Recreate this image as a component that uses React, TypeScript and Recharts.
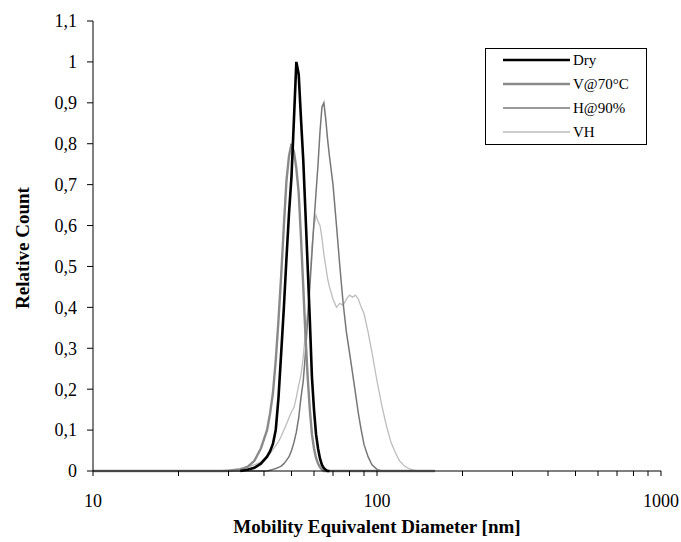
import { LineChart, Line, XAxis, YAxis, Label } from "recharts";

// diameters [nm] shared by every series
const diam = [10, 15, 20, 25, 28, 30, 33, 35, 37, 39, 41, 42, 43, 44, 45, 46, 47, 48, 49, 50, 51, 52, 53, 54, 55, 56, 57, 58, 59, 60, 61, 62, 63, 64, 65, 66, 67, 68, 70, 72, 74, 76, 78, 80, 82, 84, 86, 88, 90, 93, 96, 100, 104, 108, 112, 116, 120, 125, 130, 135, 140, 150, 160];

const dry = [null, null, null, null, null, null, 0, 0.003, 0.008, 0.018, 0.035, 0.048, 0.066, 0.1, 0.18, 0.29, 0.4, 0.52, 0.63, 0.72, 0.86, 1.0, 0.97, 0.86, 0.76, 0.63, 0.5, 0.37, 0.23, 0.15, 0.09, 0.055, 0.03, 0.015, 0.007, 0.003, 0, 0, null, null, null, null, null, null, null, null, null, null, null, null, null, null, null, null, null, null, null, null, null, null, null, null, null];
const v70 = [0, 0, 0, 0, 0, 0, 0.004, 0.01, 0.025, 0.055, 0.1, 0.14, 0.19, 0.27, 0.37, 0.48, 0.6, 0.71, 0.77, 0.8, 0.78, 0.74, 0.68, 0.57, 0.45, 0.33, 0.23, 0.15, 0.09, 0.055, 0.032, 0.018, 0.009, 0.004, 0, 0, 0, 0, 0, 0, 0, 0, 0, 0, 0, 0, 0, 0, 0, 0, 0, 0, 0, 0, 0, 0, 0, 0, 0, 0, 0, 0, 0];
const h90 = [0, 0, 0, 0, 0, 0, 0, 0, 0, 0, 0, 0.002, 0.004, 0.006, 0.009, 0.012, 0.018, 0.026, 0.035, 0.05, 0.07, 0.095, 0.13, 0.18, 0.22, 0.29, 0.37, 0.45, 0.53, 0.61, 0.68, 0.75, 0.83, 0.89, 0.9, 0.86, 0.81, 0.77, 0.7, 0.6, 0.5, 0.41, 0.34, 0.29, 0.24, 0.19, 0.14, 0.1, 0.065, 0.035, 0.015, 0.004, 0, 0, 0, 0, 0, 0, 0, 0, 0, 0, 0];
const vh = [0, 0, 0, 0, 0, 0.003, 0.006, 0.01, 0.015, 0.022, 0.035, 0.043, 0.052, 0.062, 0.072, 0.085, 0.1, 0.115, 0.13, 0.145, 0.155, 0.18, 0.21, 0.235, 0.28, 0.34, 0.39, 0.46, 0.55, 0.6, 0.625, 0.61, 0.6, 0.57, 0.53, 0.5, 0.47, 0.45, 0.42, 0.4, 0.41, 0.405, 0.42, 0.43, 0.425, 0.43, 0.42, 0.4, 0.385, 0.34, 0.29, 0.22, 0.16, 0.11, 0.07, 0.045, 0.025, 0.012, 0.005, 0.002, 0, 0, 0];

const xTicks = [10, 20, 30, 40, 50, 60, 70, 80, 90, 100, 200, 300, 400, 500, 600, 700, 800, 900, 1000];
const xLabelled = [10, 100, 1000];
const yTicks = [0, 0.1, 0.2, 0.3, 0.4, 0.5, 0.6, 0.7, 0.8, 0.9, 1, 1.1];

const data = diam.map((d, i) => ({ d, dry: dry[i], v70: v70[i], h90: h90[i], vh: vh[i] }));

const FONT = '"Liberation Serif", "Times New Roman", serif';

const SERIES = [
  { key: "dry", label: "Dry", color: "#000000", width: 2.6 },
  { key: "v70", label: "V@70°C", color: "#8a8a8a", width: 2.4 },
  { key: "h90", label: "H@90%", color: "#777777", width: 1.5 },
  { key: "vh", label: "VH", color: "#bdbdbd", width: 1.3 },
];

function ChartLegend() {
  return (
    <svg width={163} height={98} style={{ position: "absolute", left: 485, top: 48, display: "block" }}>
      <rect x={0.5} y={0.5} width={161} height={96} fill="#fff" stroke="#000" />
      {SERIES.map((s, i) => (
        <g key={s.key}>
          <line x1={18} x2={85} y1={12 + i * 24} y2={12 + i * 24} stroke={s.color} strokeWidth={s.width} />
          <text x={88} y={12 + i * 24} dy="0.35em" fontSize={15} fontFamily={FONT} fill="#000">{s.label}</text>
        </g>
      ))}
    </svg>
  );
}

const fmtY = (v: number) => (v === 0 ? "0" : v === 1 ? "1" : v.toFixed(1).replace(".", ","));

export default function App() {
  return (
    <div style={{ position: "absolute", left: 0, top: 0, width: 681, height: 542, background: "#fff" }}>
      <LineChart width={681} height={542} data={data} margin={{ top: 21, right: 20, left: 0, bottom: 26 }}>
        <XAxis
          dataKey="d" type="number" scale="log" domain={[10, 1000]} ticks={xTicks} allowDataOverflow
          tickFormatter={(v: number) => (xLabelled.includes(v) ? String(v) : "")}
          tick={{ fontSize: 18, fill: "#000", fontFamily: FONT }}
          tickSize={5} tickMargin={18} height={45} stroke="#000" interval={0}
        >
          <Label
            content={() => (
              <text x={377} y={533} textAnchor="middle" fontSize={19} fontWeight="bold" fontFamily={FONT} fill="#000">
                Mobility Equivalent Diameter [nm]
              </text>
            )}
          />
        </XAxis>
        <YAxis
          type="number" domain={[0, 1.1]} ticks={yTicks} tickFormatter={fmtY} width={93}
          tick={{ fontSize: 18, fill: "#000", fontFamily: FONT }}
          tickSize={6} tickMargin={10} stroke="#000" interval={0}
        >
          <Label
            content={() => (
              <text x={22} y={248} transform="rotate(-90 22 248)" textAnchor="middle" dominantBaseline="central" fontSize={19} fontWeight="bold" fontFamily={FONT} fill="#000">
                Relative Count
              </text>
            )}
          />
        </YAxis>
        <Line type="linear" dataKey="vh" stroke="#bdbdbd" strokeWidth={1.3} dot={false} isAnimationActive={false} />
        <Line type="linear" dataKey="h90" stroke="#777777" strokeWidth={1.5} dot={false} isAnimationActive={false} />
        <Line type="linear" dataKey="v70" stroke="#8a8a8a" strokeWidth={2.4} dot={false} isAnimationActive={false} />
        <Line type="linear" dataKey="dry" stroke="#000000" strokeWidth={2.6} dot={false} connectNulls={false} isAnimationActive={false} />
      </LineChart>
      <ChartLegend />
    </div>
  );
}
